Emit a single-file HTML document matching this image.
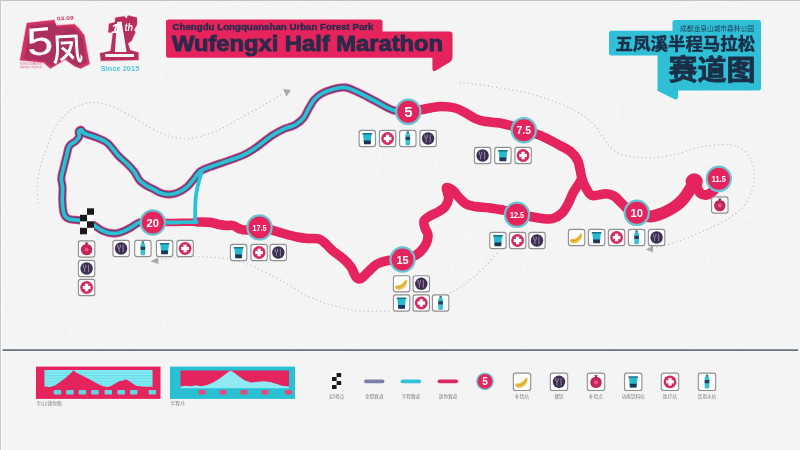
<!DOCTYPE html>
<html lang="zh">
<head>
<meta charset="utf-8">
<title>五凤溪半程马拉松 赛道图 - Wufengxi Half Marathon</title>
<style>
html,body{margin:0;padding:0;background:#f4f4f4;width:800px;height:450px;overflow:hidden}
svg{display:block}
svg text{font-family:"Liberation Sans","Noto Sans CJK SC",sans-serif}
#blurred{filter:blur(0.7px)}
</style>
</head>
<body>
<svg width="800" height="450" viewBox="0 0 800 450">
<rect width="800" height="450" fill="#f4f4f4"/>
<clipPath id="mapclip"><rect x="0" y="0" width="800" height="349"/></clipPath><g fill="none" stroke="#ffffff" stroke-width="0.9" opacity="0.3" clip-path="url(#mapclip)">
<path d="M284 70 L283 75 L279 79 L274 82 L268 84 L262 84 L257 84 L252 83 L248 83 L243 84 L237 85 L230 85 L225 82 L222 78 L221 74 L221 70 L221 66 L223 62 L227 59 L232 57 L237 55 L242 54 L247 53 L253 53 L257 55 L261 57 L265 59 L270 60 L276 62 L282 65Z"/>
<path d="M319 70 L316 79 L308 87 L298 93 L287 97 L275 98 L263 97 L254 96 L246 96 L236 98 L224 100 L210 100 L199 95 L193 87 L192 78 L191 70 L192 62 L196 54 L204 48 L215 44 L225 41 L234 38 L245 36 L255 37 L265 40 L272 45 L280 48 L290 51 L303 54 L314 61Z"/>
<path d="M353 70 L349 84 L337 96 L322 105 L305 111 L287 113 L270 111 L256 108 L244 108 L230 112 L210 116 L190 115 L174 107 L165 95 L162 82 L162 70 L163 58 L170 46 L182 37 L197 31 L212 26 L227 22 L242 19 L258 20 L272 25 L283 32 L294 37 L310 41 L329 46 L346 56Z"/>
<path d="M387 70 L382 89 L366 104 L346 116 L323 124 L299 127 L277 125 L258 121 L242 121 L223 126 L197 131 L170 129 L148 119 L137 104 L133 87 L132 70 L134 54 L143 38 L159 26 L179 18 L200 12 L219 6 L239 3 L260 4 L279 10 L294 19 L309 26 L330 31 L356 39 L378 52Z"/>
<path d="M421 70 L415 93 L395 113 L370 128 L342 138 L312 141 L283 138 L260 134 L240 134 L216 140 L184 146 L150 144 L123 132 L109 112 L104 91 L103 70 L106 50 L116 30 L136 15 L161 4 L187 -3 L211 -10 L237 -14 L263 -13 L286 -5 L305 6 L324 15 L350 22 L382 31 L410 47Z"/>
<path d="M456 70 L448 98 L424 122 L394 140 L360 151 L324 155 L290 152 L262 147 L238 147 L209 154 L171 161 L130 159 L97 144 L80 120 L75 95 L74 70 L77 45 L89 22 L113 4 L144 -9 L174 -17 L203 -25 L234 -31 L266 -30 L294 -20 L316 -6 L339 4 L370 12 L408 23 L442 43Z"/>
<path d="M670 300 L671 304 L669 309 L664 312 L659 314 L653 316 L648 317 L643 319 L637 319 L632 316 L628 313 L626 310 L623 308 L619 306 L615 304 L612 300 L611 296 L611 291 L613 287 L617 283 L624 281 L631 282 L638 284 L642 287 L646 288 L651 288 L656 288 L661 290 L665 293 L668 296Z"/>
<path d="M700 300 L701 309 L697 317 L688 323 L677 328 L667 331 L657 335 L646 338 L634 337 L624 333 L617 327 L612 321 L606 317 L598 313 L590 307 L584 300 L581 292 L582 283 L585 274 L594 266 L607 262 L622 264 L635 269 L644 273 L652 275 L661 275 L672 276 L682 280 L689 285 L695 292Z"/>
<path d="M730 300 L732 313 L726 326 L713 335 L696 342 L680 347 L665 352 L649 356 L631 356 L616 349 L605 340 L598 331 L589 325 L577 319 L564 311 L556 300 L552 288 L553 274 L558 260 L571 249 L591 243 L613 245 L633 253 L646 260 L658 263 L672 263 L688 265 L702 270 L714 278 L723 288Z"/>
<path d="M759 300 L762 317 L755 334 L737 347 L715 355 L694 362 L674 369 L652 375 L628 374 L608 366 L594 353 L584 342 L572 333 L556 325 L539 314 L528 300 L523 283 L524 265 L531 247 L548 232 L574 224 L605 227 L630 237 L648 246 L664 250 L683 251 L704 253 L723 260 L738 271 L750 284Z"/>
<path d="M789 300 L793 322 L783 343 L761 359 L734 369 L707 378 L682 387 L655 394 L625 393 L600 382 L582 367 L570 352 L555 341 L534 331 L514 318 L500 300 L494 279 L494 257 L504 234 L525 215 L558 205 L596 209 L628 221 L651 233 L670 238 L693 239 L719 241 L744 250 L763 264 L778 280Z"/>
<path d="M819 300 L823 326 L812 351 L785 370 L752 383 L721 393 L691 404 L658 413 L622 412 L592 399 L571 380 L556 362 L538 350 L513 338 L489 321 L472 300 L464 275 L465 248 L476 221 L502 198 L542 186 L587 191 L625 206 L653 220 L676 226 L704 226 L735 229 L765 240 L788 256 L806 277Z"/>
<path d="M849 300 L854 330 L841 360 L809 382 L771 397 L734 409 L699 421 L661 431 L619 430 L584 415 L559 393 L542 373 L520 358 L492 344 L463 325 L443 300 L435 271 L436 239 L449 207 L479 181 L525 168 L578 173 L623 190 L655 206 L682 213 L714 214 L751 218 L785 230 L812 249 L833 273Z"/>
<path d="M115 330 L113 333 L112 337 L111 340 L108 344 L104 346 L99 348 L93 349 L87 351 L80 351 L74 349 L70 345 L69 340 L70 336 L71 333 L70 330 L69 327 L68 324 L69 320 L71 316 L74 312 L80 308 L86 307 L93 309 L99 312 L103 316 L106 318 L110 321 L113 323 L115 326Z"/>
<path d="M139 330 L137 337 L135 343 L132 350 L127 357 L118 362 L108 366 L96 369 L84 371 L70 372 L57 368 L49 360 L48 350 L50 342 L52 335 L50 330 L48 324 L46 317 L48 310 L52 302 L59 294 L69 287 L83 284 L97 287 L108 294 L115 301 L122 307 L129 311 L136 316 L139 323Z"/>
<path d="M164 330 L160 340 L157 350 L153 360 L145 371 L132 379 L116 384 L99 388 L80 392 L60 392 L41 387 L29 375 L27 361 L30 348 L33 338 L31 330 L27 321 L25 311 L27 299 L33 288 L43 275 L59 265 L79 262 L100 266 L116 276 L128 287 L137 295 L149 302 L159 310 L164 319Z"/>
<path d="M188 330 L184 343 L179 356 L174 371 L163 384 L146 395 L125 402 L102 408 L77 412 L49 413 L24 406 L8 390 L6 371 L10 354 L14 341 L11 330 L5 318 L3 304 L6 289 L14 273 L27 257 L48 244 L76 239 L103 244 L125 258 L140 272 L153 283 L168 292 L182 303 L189 316Z"/>
<path d="M213 330 L207 347 L201 363 L195 381 L182 398 L160 411 L134 420 L105 427 L74 433 L39 434 L8 425 L-12 405 L-15 381 L-9 360 L-6 344 L-9 330 L-16 315 L-19 298 L-15 279 L-5 259 L11 239 L38 222 L72 216 L107 223 L134 240 L153 258 L169 271 L188 283 L205 296 L214 312Z"/>
<path d="M237 330 L230 350 L224 370 L216 391 L200 411 L174 427 L143 438 L108 446 L71 453 L29 455 L-9 444 L-32 421 L-36 391 L-29 365 L-25 346 L-29 330 L-37 312 L-41 291 L-36 269 L-25 245 L-4 221 L27 201 L68 193 L110 202 L143 222 L165 243 L185 260 L207 273 L228 289 L238 309Z"/>
<path d="M554 170 L555 175 L551 179 L545 182 L539 184 L533 185 L527 185 L522 184 L518 184 L514 183 L508 184 L502 184 L496 182 L492 178 L491 174 L492 170 L492 166 L493 162 L495 158 L500 155 L506 154 L512 153 L517 154 L523 154 L527 155 L531 157 L534 159 L538 161 L544 163 L550 166Z"/>
<path d="M589 170 L589 180 L582 188 L570 194 L557 198 L546 199 L535 200 L525 199 L516 197 L507 197 L496 197 L483 197 L471 194 L464 187 L462 178 L463 170 L465 162 L466 154 L471 146 L480 140 L492 138 L504 137 L515 137 L525 138 L534 140 L542 144 L548 149 L556 153 L567 156 L580 162Z"/>
<path d="M623 170 L624 185 L612 197 L594 206 L576 211 L558 214 L542 215 L527 213 L514 211 L501 210 L485 211 L465 211 L447 205 L436 195 L433 182 L435 170 L437 158 L439 146 L446 134 L460 126 L478 121 L496 120 L512 121 L528 122 L542 125 L553 132 L563 138 L574 144 L591 149 L610 157Z"/>
<path d="M657 170 L658 190 L643 207 L619 218 L594 225 L571 229 L549 230 L529 227 L511 224 L494 223 L473 225 L447 224 L423 217 L408 203 L405 186 L407 170 L409 154 L412 138 L422 123 L440 111 L464 105 L488 104 L510 104 L530 106 L549 111 L564 119 L577 128 L592 135 L614 142 L639 153Z"/>
<path d="M691 170 L693 195 L674 216 L644 230 L613 239 L584 244 L556 245 L531 242 L509 238 L488 236 L461 238 L429 238 L399 229 L380 211 L376 190 L378 170 L381 150 L386 130 L397 111 L420 96 L450 89 L480 87 L507 88 L533 90 L556 96 L575 106 L591 117 L610 126 L638 135 L669 149Z"/>
<path d="M779 260 L782 263 L785 267 L785 272 L782 276 L776 279 L770 280 L763 281 L757 280 L751 278 L748 274 L745 271 L742 269 L738 266 L735 264 L733 260 L735 256 L737 253 L740 250 L742 247 L745 243 L750 240 L757 239 L763 239 L769 241 L775 243 L779 246 L780 250 L779 254 L778 257Z"/>
<path d="M798 260 L804 266 L809 275 L810 284 L804 292 L793 298 L780 301 L767 301 L754 300 L743 295 L735 289 L730 282 L724 277 L716 273 L710 267 L707 260 L710 253 L715 247 L720 240 L724 233 L730 226 L740 220 L753 217 L767 218 L779 221 L789 226 L797 233 L800 241 L798 249 L796 255Z"/>
<path d="M817 260 L825 269 L834 282 L835 296 L825 308 L809 317 L790 321 L770 322 L751 320 L734 313 L723 303 L715 294 L706 286 L695 279 L684 271 L680 260 L684 249 L692 240 L700 231 L706 220 L716 209 L731 200 L750 196 L770 198 L788 202 L804 209 L816 219 L820 231 L818 243 L814 252Z"/>
<path d="M836 260 L847 272 L858 289 L860 308 L847 325 L825 335 L800 341 L773 343 L747 340 L726 330 L710 317 L699 305 L688 295 L673 286 L659 274 L654 260 L659 246 L670 233 L679 221 L688 207 L701 192 L721 180 L747 175 L773 177 L798 183 L819 192 L834 205 L840 221 L837 237 L833 250Z"/>
<path d="M855 260 L869 275 L883 297 L885 320 L869 341 L842 354 L809 362 L776 364 L744 360 L717 348 L698 332 L684 316 L670 304 L651 292 L634 278 L627 260 L634 242 L647 226 L659 211 L670 193 L686 175 L711 160 L743 154 L776 156 L807 164 L834 175 L853 191 L860 212 L856 231 L851 247Z"/>
<path d="M873 260 L891 278 L908 304 L910 332 L891 357 L858 373 L819 382 L780 384 L741 380 L708 366 L685 346 L669 327 L652 312 L629 299 L609 281 L601 260 L609 239 L624 220 L639 201 L652 180 L671 157 L701 140 L740 132 L780 135 L816 144 L848 158 L871 178 L880 202 L875 226 L869 245Z"/>
<path d="M358 300 L356 304 L355 307 L352 311 L347 313 L342 314 L337 315 L332 316 L327 316 L322 316 L317 315 L313 312 L309 310 L303 308 L298 305 L295 300 L297 295 L302 292 L309 290 L314 288 L319 287 L324 287 L328 286 L332 286 L337 285 L344 284 L351 284 L357 287 L360 291 L360 296Z"/>
<path d="M387 300 L383 307 L379 315 L373 321 L365 326 L355 328 L345 330 L335 332 L325 333 L314 332 L305 329 L296 325 L287 321 L276 316 L266 309 L260 300 L264 291 L274 283 L287 279 L299 277 L308 275 L317 273 L326 273 L334 272 L345 270 L357 268 L372 269 L385 273 L391 282 L390 291Z"/>
<path d="M415 300 L409 311 L404 322 L395 332 L382 339 L367 343 L352 345 L337 347 L322 349 L307 348 L292 344 L280 337 L266 331 L250 324 L234 314 L226 300 L231 286 L246 275 L266 269 L283 265 L297 262 L311 260 L324 259 L337 258 L352 255 L371 253 L393 253 L412 260 L421 273 L421 287Z"/>
<path d="M443 300 L435 315 L428 329 L417 342 L400 352 L379 357 L359 360 L340 363 L320 365 L299 364 L280 358 L263 350 L245 341 L223 332 L202 318 L191 300 L197 281 L218 267 L244 258 L267 253 L286 250 L304 247 L321 245 L339 244 L359 240 L385 237 L414 238 L439 247 L452 264 L451 283Z"/>
<path d="M471 300 L462 319 L453 336 L439 353 L417 364 L391 371 L367 375 L342 379 L317 382 L291 380 L267 373 L246 362 L223 352 L196 340 L169 323 L156 300 L164 277 L190 259 L223 248 L251 242 L275 237 L298 234 L319 232 L341 230 L366 226 L399 221 L435 222 L467 234 L482 255 L481 279Z"/>
<path d="M144 120 L146 124 L147 128 L146 133 L142 136 L135 138 L129 138 L123 138 L117 138 L111 138 L106 136 L102 133 L100 130 L99 126 L98 123 L97 120 L96 117 L97 113 L98 110 L100 105 L104 101 L109 98 L116 97 L123 99 L128 103 L131 107 L134 110 L137 112 L140 114 L142 117Z"/>
<path d="M168 120 L172 127 L174 136 L172 145 L163 152 L151 156 L138 156 L126 156 L114 156 L103 156 L92 153 L84 147 L81 139 L79 132 L77 126 L74 120 L73 113 L74 106 L77 99 L81 91 L87 82 L98 75 L113 74 L127 78 L137 86 L143 94 L148 99 L154 104 L160 108 L165 114Z"/>
<path d="M193 120 L198 131 L201 144 L197 158 L185 168 L166 173 L146 174 L128 174 L111 174 L94 174 L77 169 L66 160 L61 149 L58 138 L55 129 L51 120 L49 110 L51 99 L55 89 L61 76 L71 63 L87 53 L109 50 L130 57 L145 69 L154 80 L162 89 L171 96 L180 102 L187 111Z"/>
<path d="M217 120 L224 135 L228 152 L223 170 L207 184 L182 191 L155 192 L131 192 L109 192 L85 192 L63 185 L48 173 L41 158 L38 144 L33 132 L28 120 L25 107 L28 93 L33 78 L42 62 L55 45 L77 31 L105 27 L133 36 L153 51 L166 67 L176 79 L187 87 L199 96 L209 107Z"/>
<path d="M241 120 L250 138 L255 160 L249 183 L228 200 L197 209 L164 210 L134 210 L106 210 L76 209 L49 202 L30 186 L21 168 L17 151 L11 135 L5 120 L1 103 L5 86 L12 68 L22 47 L38 26 L66 9 L102 4 L137 15 L162 34 L177 54 L190 68 L204 79 L219 91 L231 104Z"/>
<path d="M729 80 L726 84 L722 86 L718 89 L715 91 L711 93 L707 94 L702 95 L697 98 L690 100 L683 100 L676 98 L673 93 L673 88 L674 84 L676 80 L677 77 L679 74 L682 71 L685 69 L688 66 L692 63 L697 61 L703 60 L709 62 L714 64 L719 66 L724 68 L728 72 L731 76Z"/>
<path d="M759 80 L752 87 L744 93 L736 98 L729 102 L722 105 L714 108 L705 111 L694 115 L681 119 L665 120 L652 115 L646 106 L645 96 L649 87 L652 80 L655 74 L659 68 L664 63 L670 58 L676 52 L683 46 L694 41 L706 40 L718 43 L728 48 L737 52 L748 57 L757 63 L761 71Z"/>
<path d="M788 80 L778 91 L765 99 L755 106 L744 113 L733 118 L720 122 L707 126 L692 133 L671 139 L648 140 L628 133 L618 120 L618 104 L623 91 L627 80 L632 70 L638 62 L646 54 L655 47 L664 38 L675 29 L691 22 L709 21 L727 25 L742 32 L756 38 L772 45 L785 55 L792 67Z"/>
<path d="M818 80 L804 95 L787 106 L773 115 L759 124 L743 130 L727 135 L710 142 L689 150 L662 159 L630 160 L604 151 L591 133 L591 112 L597 95 L603 80 L609 67 L617 55 L628 45 L640 36 L652 24 L667 12 L688 3 L712 1 L736 7 L756 16 L775 25 L795 34 L814 46 L823 63Z"/>
</g>
<g id="blurred">
<path d="M38.0 203.0 C37.9 199.5 37.0 188.3 37.5 182.0 C38.0 175.7 39.6 170.3 41.0 165.0 C42.4 159.7 43.7 156.2 46.0 150.0 C48.3 143.8 51.0 134.6 55.0 128.0 C59.0 121.4 64.6 114.7 70.0 110.5 C75.4 106.3 81.7 104.1 87.5 103.0 C93.3 101.9 98.8 102.4 105.0 104.0 C111.2 105.6 117.5 108.6 125.0 112.5 C132.5 116.4 142.5 123.5 150.0 127.5 C157.5 131.5 163.3 134.7 170.0 136.5 C176.7 138.3 182.5 139.3 190.0 138.5 C197.5 137.7 206.2 135.1 215.0 131.5 C223.8 127.9 233.8 121.8 242.5 117.0 C251.2 112.2 260.6 107.0 267.5 103.0 C274.4 99.0 281.2 94.7 284.0 93.0" fill="none" stroke="#c2c2c2" stroke-width="1.25" stroke-dasharray="0.2 3.9" stroke-linecap="round"/>
<path d="M460.0 82.5 C464.6 83.1 476.7 84.3 487.5 86.0 C498.3 87.7 514.6 90.2 525.0 92.5 C535.4 94.8 541.7 97.0 550.0 100.0 C558.3 103.0 567.9 106.7 575.0 110.5 C582.1 114.3 587.8 118.6 592.5 123.0 C597.2 127.4 600.1 133.0 603.0 137.0 C605.9 141.0 606.7 144.0 610.0 147.0 C613.3 150.0 616.3 153.2 623.0 155.0 C629.7 156.8 641.3 158.1 650.0 158.0 C658.7 157.9 666.7 156.3 675.0 154.5 C683.3 152.7 691.7 148.7 700.0 147.0 C708.3 145.3 718.3 144.3 725.0 144.5 C731.7 144.7 735.8 145.8 740.0 148.0 C744.2 150.2 747.6 153.5 750.0 158.0 C752.4 162.5 754.3 169.2 754.5 175.0 C754.7 180.8 753.1 187.5 751.0 193.0 C748.9 198.5 746.3 203.4 742.0 208.0 C737.7 212.6 732.0 216.4 725.0 220.5 C718.0 224.6 708.3 228.8 700.0 232.5 C691.7 236.2 682.7 239.9 675.0 242.5 C667.3 245.1 657.5 247.1 654.0 248.0" fill="none" stroke="#c2c2c2" stroke-width="1.25" stroke-dasharray="0.2 3.9" stroke-linecap="round"/>
<path d="M158.0 259.8 C160.8 259.4 168.0 258.0 175.0 257.5 C182.0 257.0 191.7 256.6 200.0 256.8 C208.3 257.0 216.7 257.1 225.0 258.5 C233.3 259.9 240.8 261.4 250.0 265.0 C259.2 268.6 270.0 274.7 280.0 280.0 C290.0 285.3 300.8 292.7 310.0 297.0 C319.2 301.3 326.7 303.7 335.0 306.0 C343.3 308.3 350.5 310.2 360.0 311.0 C369.5 311.8 386.7 311.0 392.0 311.0" fill="none" stroke="#c2c2c2" stroke-width="1.25" stroke-dasharray="0.2 3.9" stroke-linecap="round"/>
<path d="M450.0 293.0 C452.0 291.8 457.8 288.8 462.0 286.0 C466.2 283.2 470.8 279.7 475.0 276.0 C479.2 272.3 483.7 268.0 487.5 264.0 C491.3 260.0 496.2 254.0 498.0 252.0" fill="none" stroke="#c2c2c2" stroke-width="1.25" stroke-dasharray="0.2 3.9" stroke-linecap="round"/>
<polygon points="283,89 291,90 286.5,96.5" fill="#a9a9a9"/>
<polygon points="646,249.5 653,245.5 653,252.5" fill="#a9a9a9"/>
<polygon points="150.5,261.3 158,257.5 158.5,264" fill="#a9a9a9"/>
<path d="M408.0 112.0 C410.8 111.5 419.7 109.9 425.0 109.0 C430.3 108.1 435.0 106.7 440.0 106.5 C445.0 106.3 450.8 107.0 455.0 108.0 C459.2 109.0 461.7 110.8 465.0 112.5 C468.3 114.2 471.7 117.0 475.0 118.5 C478.3 120.0 480.8 120.8 485.0 121.5 C489.2 122.2 495.5 122.2 500.0 123.0 C504.5 123.8 508.0 124.8 512.0 126.0 C516.0 127.2 518.9 128.2 524.0 130.0 C529.1 131.8 536.5 133.9 542.5 136.5 C548.5 139.1 555.2 142.9 560.0 145.5 C564.8 148.1 568.1 149.6 571.0 152.0 C573.9 154.4 576.0 157.2 577.5 160.0 C579.0 162.8 579.2 165.8 580.0 169.0 C580.8 172.2 581.0 175.8 582.0 179.0 C583.0 182.2 584.3 185.2 586.0 188.0 C587.7 190.8 588.7 194.5 592.0 195.5 C595.3 196.5 602.3 193.7 606.0 193.8 C609.7 193.9 611.5 194.6 614.0 196.0 C616.5 197.4 618.7 200.2 621.0 202.5 C623.3 204.8 625.5 207.8 628.0 209.5 C630.5 211.2 634.9 212.4 636.3 213.0" fill="none" stroke="#e5245d" stroke-width="9.5" stroke-linecap="round" stroke-linejoin="round"/>
<path d="M582.0 179.0 C581.3 180.0 579.5 182.7 578.0 185.0 C576.5 187.3 574.7 189.8 573.0 193.0 C571.3 196.2 569.8 200.7 568.0 204.0 C566.2 207.3 564.5 210.6 562.0 213.0 C559.5 215.4 556.3 217.6 553.0 218.5 C549.7 219.4 545.8 218.8 542.0 218.5 C538.2 218.2 534.2 217.2 530.0 216.5 C525.8 215.8 521.2 215.5 517.0 214.5 C512.8 213.5 509.5 211.6 505.0 210.5 C500.5 209.4 495.0 208.7 490.0 208.0 C485.0 207.3 479.0 207.2 475.0 206.5 C471.0 205.8 468.7 205.5 466.0 204.0 C463.3 202.5 461.2 199.8 459.0 197.5 C456.8 195.2 455.1 192.2 453.0 190.5 C450.9 188.8 447.4 187.1 446.5 187.5 C445.6 187.9 447.2 191.1 447.5 193.0 C447.8 194.9 448.9 196.7 448.5 199.0 C448.1 201.3 446.8 204.8 445.0 207.0 C443.2 209.2 440.5 210.5 438.0 212.0 C435.5 213.5 432.3 214.5 430.0 216.0 C427.7 217.5 424.8 219.0 424.0 221.0 C423.2 223.0 424.3 225.7 425.0 228.0 C425.7 230.3 427.8 232.3 428.0 235.0 C428.2 237.7 427.3 241.2 426.0 244.0 C424.7 246.8 422.3 249.8 420.0 252.0 C417.7 254.2 414.9 255.8 412.0 257.0 C409.1 258.2 406.5 258.9 402.5 259.5 C398.5 260.1 392.2 259.8 388.0 260.5 C383.8 261.2 380.3 262.1 377.0 264.0 C373.7 265.9 370.7 269.6 368.0 272.0 C365.3 274.4 363.0 277.7 361.0 278.5 C359.0 279.3 357.7 278.9 356.0 277.0 C354.3 275.1 353.2 270.1 351.0 267.0 C348.8 263.9 346.0 261.2 343.0 258.5 C340.0 255.8 335.8 253.4 333.0 251.0 C330.2 248.6 328.3 246.0 326.0 244.0 C323.7 242.0 322.0 239.9 319.0 239.0 C316.0 238.1 311.7 238.8 308.0 238.5 C304.3 238.2 301.7 238.0 297.0 237.0 C292.3 236.0 286.2 234.2 280.0 232.5 C273.8 230.8 265.3 227.4 260.0 227.0 C254.7 226.6 251.3 229.7 248.0 230.0 C244.7 230.3 242.5 229.8 240.0 229.0 C237.5 228.2 235.3 226.1 233.0 225.5 C230.7 224.9 228.3 225.7 226.0 225.5 C223.7 225.3 221.7 225.0 219.0 224.5 C216.3 224.0 213.7 222.7 210.0 222.3 C206.3 221.9 199.2 222.1 197.0 222.0" fill="none" stroke="#e5245d" stroke-width="9.5" stroke-linecap="round" stroke-linejoin="round"/>
<path d="M636.3 213.5 C638.6 214.0 645.7 216.5 650.0 216.5 C654.3 216.5 658.2 214.8 662.0 213.3 C665.8 211.9 669.7 209.9 673.0 207.8 C676.3 205.7 679.5 203.1 682.0 200.5 C684.5 197.9 686.2 195.1 688.0 192.5 C689.8 189.9 691.8 186.2 692.5 185.0" fill="none" stroke="#e5245d" stroke-width="12" stroke-linecap="round" stroke-linejoin="round"/>
<path d="M694.0 182.0 C694.5 183.0 695.9 186.1 697.0 188.0 C698.1 189.9 699.0 192.1 700.5 193.3 C702.0 194.5 704.2 195.1 706.0 195.0 C707.8 194.9 709.8 193.8 711.5 192.5 C713.2 191.2 714.8 189.1 716.0 187.0 C717.2 184.9 718.5 181.2 719.0 180.0" fill="none" stroke="#e5245d" stroke-width="10" stroke-linecap="round" stroke-linejoin="round"/>
<circle cx="694.2" cy="181.8" r="8.6" fill="#e5245d"/>
<path d="M152.5 222.5 C150.4 222.5 143.8 221.4 140.0 222.3 C136.2 223.2 133.0 226.4 130.0 228.0 C127.0 229.6 124.7 230.9 122.0 231.8 C119.3 232.7 117.2 233.6 114.0 233.5 C110.8 233.4 106.8 232.7 103.0 231.0 C99.2 229.3 94.8 225.3 91.0 223.5 C87.2 221.7 83.7 221.1 80.0 220.3 C76.3 219.6 71.7 220.1 69.0 219.0 C66.3 217.9 65.1 217.2 64.0 214.0 C62.9 210.8 62.5 204.4 62.3 200.0 C62.1 195.6 62.8 191.1 62.6 187.5 C62.4 183.9 61.2 181.4 61.3 178.5 C61.4 175.6 62.1 173.8 63.0 170.0 C63.9 166.2 65.5 160.0 66.5 156.0 C67.5 152.0 67.8 148.4 69.3 146.0 C70.8 143.6 73.8 142.9 75.5 141.3 C77.2 139.7 78.8 138.1 79.3 136.5 C79.8 134.9 78.3 132.9 78.6 131.8 C78.9 130.7 80.0 129.6 81.0 129.8 C82.0 130.1 81.8 132.0 84.5 133.3 C87.2 134.6 93.2 136.2 97.0 137.8 C100.8 139.4 104.1 140.1 107.6 143.1 C111.1 146.1 115.0 152.2 118.2 155.6 C121.4 159.0 124.3 160.9 127.0 163.6 C129.7 166.3 132.1 168.8 134.2 171.6 C136.3 174.4 137.5 178.0 139.6 180.4 C141.7 182.8 144.3 184.3 146.7 185.8 C149.1 187.3 151.6 188.2 153.8 189.3 C156.0 190.5 157.6 191.8 160.0 192.7 C162.4 193.6 165.5 194.5 168.5 194.5 C171.5 194.5 174.9 193.8 178.0 192.5 C181.1 191.2 184.3 189.2 187.0 187.0 C189.7 184.8 191.8 181.6 194.0 179.0 C196.2 176.4 197.3 173.5 200.0 171.5 C202.7 169.5 206.7 168.3 210.0 167.0 C213.3 165.7 214.6 165.4 220.0 163.5 C225.4 161.6 236.7 158.0 242.5 155.5 C248.3 153.0 250.0 151.7 255.0 148.3 C260.0 144.9 267.5 138.6 272.5 135.3 C277.5 132.0 281.2 130.2 285.0 128.5 C288.8 126.8 291.9 126.8 295.0 125.0 C298.1 123.2 301.2 120.8 303.5 118.0 C305.8 115.2 307.2 111.0 309.0 108.0 C310.8 105.0 312.0 102.3 314.0 100.0 C316.0 97.7 318.0 95.8 321.0 94.0 C324.0 92.2 328.0 90.6 332.0 89.5 C336.0 88.4 340.8 87.1 345.0 87.5 C349.2 87.9 352.5 89.8 357.5 92.0 C362.5 94.2 369.2 98.0 375.0 101.0 C380.8 104.0 387.0 108.2 392.5 110.0 C398.0 111.8 405.4 111.7 408.0 112.0" fill="none" stroke="#e94c80" stroke-width="8.3" stroke-linecap="round" stroke-linejoin="round"/>
<path d="M152.5 222.5 C150.4 222.5 143.8 221.4 140.0 222.3 C136.2 223.2 133.0 226.4 130.0 228.0 C127.0 229.6 124.7 230.9 122.0 231.8 C119.3 232.7 117.2 233.6 114.0 233.5 C110.8 233.4 106.8 232.7 103.0 231.0 C99.2 229.3 94.8 225.3 91.0 223.5 C87.2 221.7 83.7 221.1 80.0 220.3 C76.3 219.6 71.7 220.1 69.0 219.0 C66.3 217.9 65.1 217.2 64.0 214.0 C62.9 210.8 62.5 204.4 62.3 200.0 C62.1 195.6 62.8 191.1 62.6 187.5 C62.4 183.9 61.2 181.4 61.3 178.5 C61.4 175.6 62.1 173.8 63.0 170.0 C63.9 166.2 65.5 160.0 66.5 156.0 C67.5 152.0 67.8 148.4 69.3 146.0 C70.8 143.6 73.8 142.9 75.5 141.3 C77.2 139.7 78.8 138.1 79.3 136.5 C79.8 134.9 78.3 132.9 78.6 131.8 C78.9 130.7 80.0 129.6 81.0 129.8 C82.0 130.1 81.8 132.0 84.5 133.3 C87.2 134.6 93.2 136.2 97.0 137.8 C100.8 139.4 104.1 140.1 107.6 143.1 C111.1 146.1 115.0 152.2 118.2 155.6 C121.4 159.0 124.3 160.9 127.0 163.6 C129.7 166.3 132.1 168.8 134.2 171.6 C136.3 174.4 137.5 178.0 139.6 180.4 C141.7 182.8 144.3 184.3 146.7 185.8 C149.1 187.3 151.6 188.2 153.8 189.3 C156.0 190.5 157.6 191.8 160.0 192.7 C162.4 193.6 165.5 194.5 168.5 194.5 C171.5 194.5 174.9 193.8 178.0 192.5 C181.1 191.2 184.3 189.2 187.0 187.0 C189.7 184.8 191.8 181.6 194.0 179.0 C196.2 176.4 197.3 173.5 200.0 171.5 C202.7 169.5 206.7 168.3 210.0 167.0 C213.3 165.7 214.6 165.4 220.0 163.5 C225.4 161.6 236.7 158.0 242.5 155.5 C248.3 153.0 250.0 151.7 255.0 148.3 C260.0 144.9 267.5 138.6 272.5 135.3 C277.5 132.0 281.2 130.2 285.0 128.5 C288.8 126.8 291.9 126.8 295.0 125.0 C298.1 123.2 301.2 120.8 303.5 118.0 C305.8 115.2 307.2 111.0 309.0 108.0 C310.8 105.0 312.0 102.3 314.0 100.0 C316.0 97.7 318.0 95.8 321.0 94.0 C324.0 92.2 328.0 90.6 332.0 89.5 C336.0 88.4 340.8 87.1 345.0 87.5 C349.2 87.9 352.5 89.8 357.5 92.0 C362.5 94.2 369.2 98.0 375.0 101.0 C380.8 104.0 387.0 108.2 392.5 110.0 C398.0 111.8 405.4 111.7 408.0 112.0" fill="none" stroke="#6b3f7c" stroke-width="6.7" stroke-linecap="round" stroke-linejoin="round"/>
<path d="M152.5 222.5 C150.4 222.5 143.8 221.4 140.0 222.3 C136.2 223.2 133.0 226.4 130.0 228.0 C127.0 229.6 124.7 230.9 122.0 231.8 C119.3 232.7 117.2 233.6 114.0 233.5 C110.8 233.4 106.8 232.7 103.0 231.0 C99.2 229.3 94.8 225.3 91.0 223.5 C87.2 221.7 83.7 221.1 80.0 220.3 C76.3 219.6 71.7 220.1 69.0 219.0 C66.3 217.9 65.1 217.2 64.0 214.0 C62.9 210.8 62.5 204.4 62.3 200.0 C62.1 195.6 62.8 191.1 62.6 187.5 C62.4 183.9 61.2 181.4 61.3 178.5 C61.4 175.6 62.1 173.8 63.0 170.0 C63.9 166.2 65.5 160.0 66.5 156.0 C67.5 152.0 67.8 148.4 69.3 146.0 C70.8 143.6 73.8 142.9 75.5 141.3 C77.2 139.7 78.8 138.1 79.3 136.5 C79.8 134.9 78.3 132.9 78.6 131.8 C78.9 130.7 80.0 129.6 81.0 129.8 C82.0 130.1 81.8 132.0 84.5 133.3 C87.2 134.6 93.2 136.2 97.0 137.8 C100.8 139.4 104.1 140.1 107.6 143.1 C111.1 146.1 115.0 152.2 118.2 155.6 C121.4 159.0 124.3 160.9 127.0 163.6 C129.7 166.3 132.1 168.8 134.2 171.6 C136.3 174.4 137.5 178.0 139.6 180.4 C141.7 182.8 144.3 184.3 146.7 185.8 C149.1 187.3 151.6 188.2 153.8 189.3 C156.0 190.5 157.6 191.8 160.0 192.7 C162.4 193.6 165.5 194.5 168.5 194.5 C171.5 194.5 174.9 193.8 178.0 192.5 C181.1 191.2 184.3 189.2 187.0 187.0 C189.7 184.8 191.8 181.6 194.0 179.0 C196.2 176.4 197.3 173.5 200.0 171.5 C202.7 169.5 206.7 168.3 210.0 167.0 C213.3 165.7 214.6 165.4 220.0 163.5 C225.4 161.6 236.7 158.0 242.5 155.5 C248.3 153.0 250.0 151.7 255.0 148.3 C260.0 144.9 267.5 138.6 272.5 135.3 C277.5 132.0 281.2 130.2 285.0 128.5 C288.8 126.8 291.9 126.8 295.0 125.0 C298.1 123.2 301.2 120.8 303.5 118.0 C305.8 115.2 307.2 111.0 309.0 108.0 C310.8 105.0 312.0 102.3 314.0 100.0 C316.0 97.7 318.0 95.8 321.0 94.0 C324.0 92.2 328.0 90.6 332.0 89.5 C336.0 88.4 340.8 87.1 345.0 87.5 C349.2 87.9 352.5 89.8 357.5 92.0 C362.5 94.2 369.2 98.0 375.0 101.0 C380.8 104.0 387.0 108.2 392.5 110.0 C398.0 111.8 405.4 111.7 408.0 112.0" fill="none" stroke="#2ac1d0" stroke-width="3.7" stroke-linecap="round" stroke-linejoin="round"/>
<path d="M152.5 222.5 C154.6 222.5 160.1 222.5 165.0 222.5 C169.9 222.5 176.8 222.4 182.0 222.3 C187.2 222.2 194.1 222.1 196.5 222.0" fill="none" stroke="#e5245d" stroke-width="7.6" stroke-linecap="butt"/>
<path d="M152.5 222.5 C154.6 222.5 160.1 222.5 165.0 222.5 C169.9 222.5 176.8 222.4 182.0 222.3 C187.2 222.2 194.1 222.1 196.5 222.0" fill="none" stroke="#2ac1d0" stroke-width="3.8" stroke-linecap="round"/>
<path d="M201.5 172.0 C201.1 173.5 199.9 177.2 199.0 181.0 C198.1 184.8 196.6 190.2 196.0 195.0 C195.4 199.8 195.3 205.5 195.2 210.0 C195.1 214.5 195.2 220.0 195.2 222.0" fill="none" stroke="#25c3dc" stroke-width="3.8" stroke-linecap="round" stroke-linejoin="round"/>
<rect x="80.0" y="208.3" width="14.0" height="26.0" fill="#fbfbfb"/><rect x="87.00" y="208.30" width="7.00" height="6.50" fill="#1a1a1a"/><rect x="80.00" y="214.80" width="7.00" height="6.50" fill="#1a1a1a"/><rect x="87.00" y="221.30" width="7.00" height="6.50" fill="#1a1a1a"/><rect x="80.00" y="227.80" width="7.00" height="6.50" fill="#1a1a1a"/>
<rect x="112.9" y="240.4" width="16.4" height="16.2" rx="2.3" fill="#fcfcfc" stroke="#8e8e94" stroke-width="1.1"/><circle cx="121.1" cy="248.5" r="6.2" fill="#382f52"/><path d="M123.1 244.7 v7.6 M117.9 244.7 v2.8 q1.2 1.6 2.4 0 v-2.8 M119.1 247.9 v4.4" stroke="#a98aa6" stroke-width="0.9" fill="none"/>
<rect x="134.7" y="240.4" width="16.4" height="16.2" rx="2.3" fill="#fcfcfc" stroke="#8e8e94" stroke-width="1.1"/><rect x="141.7" y="241.3" width="2.4" height="2.6" fill="#2a7f96"/><rect x="140.6" y="243.5" width="4.6" height="11.8" rx="1.3" fill="#3abfd2"/><rect x="140.6" y="246.7" width="4.6" height="3.2" fill="#233f63"/>
<rect x="156.4" y="240.4" width="16.4" height="16.2" rx="2.3" fill="#fcfcfc" stroke="#8e8e94" stroke-width="1.1"/><polygon points="160.3,243.9 168.9,243.9 167.8,254.1 161.4,254.1" fill="#27b9cc"/><polygon points="161.0,250.5 168.2,250.5 167.8,254.3 161.4,254.3" fill="#1d3557"/><rect x="159.7" y="242.9" width="9.8" height="1.5" rx="0.5" fill="#1d6f86"/>
<rect x="176.9" y="240.4" width="16.4" height="16.2" rx="2.3" fill="#fcfcfc" stroke="#8e8e94" stroke-width="1.1"/><circle cx="185.1" cy="248.5" r="6.4" fill="#d42a5f"/><rect x="183.5" y="244.7" width="3.2" height="7.6" fill="#fff"/><rect x="181.3" y="246.9" width="7.6" height="3.2" fill="#fff"/>
<rect x="78.4" y="240.9" width="16.4" height="16.2" rx="2.3" fill="#fcfcfc" stroke="#8e8e94" stroke-width="1.1"/><circle cx="86.6" cy="249.6" r="5.7" fill="#c2255a"/><polygon points="84.8,242.4 88.4,242.4 86.6,245.2" fill="#8c1d47"/><circle cx="86.6" cy="249.6" r="2.1" fill="#e85585"/>
<rect x="78.4" y="260.4" width="16.4" height="16.2" rx="2.3" fill="#fcfcfc" stroke="#8e8e94" stroke-width="1.1"/><circle cx="86.6" cy="268.5" r="6.2" fill="#382f52"/><path d="M88.6 264.7 v7.6 M83.4 264.7 v2.8 q1.2 1.6 2.4 0 v-2.8 M84.6 267.9 v4.4" stroke="#a98aa6" stroke-width="0.9" fill="none"/>
<rect x="78.4" y="279.4" width="16.4" height="16.2" rx="2.3" fill="#fcfcfc" stroke="#8e8e94" stroke-width="1.1"/><circle cx="86.6" cy="287.5" r="6.4" fill="#d42a5f"/><rect x="85.0" y="283.7" width="3.2" height="7.6" fill="#fff"/><rect x="82.8" y="285.9" width="7.6" height="3.2" fill="#fff"/>
<rect x="230.4" y="244.4" width="16.4" height="16.2" rx="2.3" fill="#fcfcfc" stroke="#8e8e94" stroke-width="1.1"/><polygon points="234.3,247.9 242.9,247.9 241.8,258.1 235.4,258.1" fill="#27b9cc"/><polygon points="235.0,254.5 242.2,254.5 241.8,258.3 235.4,258.3" fill="#1d3557"/><rect x="233.7" y="246.9" width="9.8" height="1.5" rx="0.5" fill="#1d6f86"/>
<rect x="250.9" y="244.4" width="16.4" height="16.2" rx="2.3" fill="#fcfcfc" stroke="#8e8e94" stroke-width="1.1"/><circle cx="259.1" cy="252.5" r="6.4" fill="#d42a5f"/><rect x="257.5" y="248.7" width="3.2" height="7.6" fill="#fff"/><rect x="255.3" y="250.9" width="7.6" height="3.2" fill="#fff"/>
<rect x="270.1" y="244.4" width="16.4" height="16.2" rx="2.3" fill="#fcfcfc" stroke="#8e8e94" stroke-width="1.1"/><circle cx="278.3" cy="252.5" r="6.2" fill="#382f52"/><path d="M280.3 248.7 v7.6 M275.1 248.7 v2.8 q1.2 1.6 2.4 0 v-2.8 M276.3 251.9 v4.4" stroke="#a98aa6" stroke-width="0.9" fill="none"/>
<rect x="359.1" y="130.4" width="16.4" height="16.2" rx="2.3" fill="#fcfcfc" stroke="#8e8e94" stroke-width="1.1"/><polygon points="363.0,133.9 371.6,133.9 370.5,144.1 364.1,144.1" fill="#27b9cc"/><polygon points="363.7,140.5 370.9,140.5 370.5,144.3 364.1,144.3" fill="#1d3557"/><rect x="362.4" y="132.9" width="9.8" height="1.5" rx="0.5" fill="#1d6f86"/>
<rect x="379.4" y="130.4" width="16.4" height="16.2" rx="2.3" fill="#fcfcfc" stroke="#8e8e94" stroke-width="1.1"/><circle cx="387.6" cy="138.5" r="6.4" fill="#d42a5f"/><rect x="386.0" y="134.7" width="3.2" height="7.6" fill="#fff"/><rect x="383.8" y="136.9" width="7.6" height="3.2" fill="#fff"/>
<rect x="399.6" y="130.4" width="16.4" height="16.2" rx="2.3" fill="#fcfcfc" stroke="#8e8e94" stroke-width="1.1"/><rect x="406.6" y="131.3" width="2.4" height="2.6" fill="#2a7f96"/><rect x="405.5" y="133.5" width="4.6" height="11.8" rx="1.3" fill="#3abfd2"/><rect x="405.5" y="136.7" width="4.6" height="3.2" fill="#233f63"/>
<rect x="419.9" y="130.4" width="16.4" height="16.2" rx="2.3" fill="#fcfcfc" stroke="#8e8e94" stroke-width="1.1"/><circle cx="428.1" cy="138.5" r="6.2" fill="#382f52"/><path d="M430.1 134.7 v7.6 M424.9 134.7 v2.8 q1.2 1.6 2.4 0 v-2.8 M426.1 137.9 v4.4" stroke="#a98aa6" stroke-width="0.9" fill="none"/>
<rect x="474.4" y="147.4" width="16.4" height="16.2" rx="2.3" fill="#fcfcfc" stroke="#8e8e94" stroke-width="1.1"/><circle cx="482.6" cy="155.5" r="6.2" fill="#382f52"/><path d="M484.6 151.7 v7.6 M479.4 151.7 v2.8 q1.2 1.6 2.4 0 v-2.8 M480.6 154.9 v4.4" stroke="#a98aa6" stroke-width="0.9" fill="none"/>
<rect x="494.7" y="147.4" width="16.4" height="16.2" rx="2.3" fill="#fcfcfc" stroke="#8e8e94" stroke-width="1.1"/><polygon points="498.6,150.9 507.2,150.9 506.1,161.1 499.7,161.1" fill="#27b9cc"/><polygon points="499.3,157.5 506.5,157.5 506.1,161.3 499.7,161.3" fill="#1d3557"/><rect x="498.0" y="149.9" width="9.8" height="1.5" rx="0.5" fill="#1d6f86"/>
<rect x="514.9" y="147.4" width="16.4" height="16.2" rx="2.3" fill="#fcfcfc" stroke="#8e8e94" stroke-width="1.1"/><circle cx="523.1" cy="155.5" r="6.4" fill="#d42a5f"/><rect x="521.5" y="151.7" width="3.2" height="7.6" fill="#fff"/><rect x="519.3" y="153.9" width="7.6" height="3.2" fill="#fff"/>
<rect x="393.4" y="275.7" width="16.4" height="16.2" rx="2.3" fill="#fcfcfc" stroke="#8e8e94" stroke-width="1.1"/><path d="M396.0 285.2 q5.5 1.2 9.6 -5.6 l1.7 0.9 q-0.800 7.8 -7.4 9.2 q-3.600 0.7 -5.300 -2.300 z" fill="#e9c243"/><path d="M396.6 287.0 q5.5 1.2 9.4 -5.300" stroke="#c09430" stroke-width="0.800" fill="none"/>
<rect x="413.1" y="275.7" width="16.4" height="16.2" rx="2.3" fill="#fcfcfc" stroke="#8e8e94" stroke-width="1.1"/><circle cx="421.3" cy="283.8" r="6.2" fill="#382f52"/><path d="M423.3 280.0 v7.6 M418.1 280.0 v2.8 q1.2 1.6 2.4 0 v-2.8 M419.3 283.2 v4.4" stroke="#a98aa6" stroke-width="0.9" fill="none"/>
<rect x="393.4" y="294.9" width="16.4" height="16.2" rx="2.3" fill="#fcfcfc" stroke="#8e8e94" stroke-width="1.1"/><polygon points="397.3,298.4 405.9,298.4 404.8,308.6 398.4,308.6" fill="#27b9cc"/><polygon points="398.0,305.0 405.2,305.0 404.8,308.8 398.4,308.8" fill="#1d3557"/><rect x="396.7" y="297.4" width="9.8" height="1.5" rx="0.5" fill="#1d6f86"/>
<rect x="413.1" y="294.9" width="16.4" height="16.2" rx="2.3" fill="#fcfcfc" stroke="#8e8e94" stroke-width="1.1"/><circle cx="421.3" cy="303.0" r="6.4" fill="#d42a5f"/><rect x="419.7" y="299.2" width="3.2" height="7.6" fill="#fff"/><rect x="417.5" y="301.4" width="7.6" height="3.2" fill="#fff"/>
<rect x="432.4" y="294.9" width="16.4" height="16.2" rx="2.3" fill="#fcfcfc" stroke="#8e8e94" stroke-width="1.1"/><rect x="439.4" y="295.8" width="2.4" height="2.6" fill="#2a7f96"/><rect x="438.3" y="298.0" width="4.6" height="11.8" rx="1.3" fill="#3abfd2"/><rect x="438.3" y="301.2" width="4.6" height="3.2" fill="#233f63"/>
<rect x="489.7" y="232.4" width="16.4" height="16.2" rx="2.3" fill="#fcfcfc" stroke="#8e8e94" stroke-width="1.1"/><polygon points="493.6,235.9 502.2,235.9 501.1,246.1 494.7,246.1" fill="#27b9cc"/><polygon points="494.3,242.5 501.5,242.5 501.1,246.3 494.7,246.3" fill="#1d3557"/><rect x="493.0" y="234.9" width="9.8" height="1.5" rx="0.5" fill="#1d6f86"/>
<rect x="509.4" y="232.4" width="16.4" height="16.2" rx="2.3" fill="#fcfcfc" stroke="#8e8e94" stroke-width="1.1"/><circle cx="517.6" cy="240.5" r="6.4" fill="#d42a5f"/><rect x="516.0" y="236.7" width="3.2" height="7.6" fill="#fff"/><rect x="513.8" y="238.9" width="7.6" height="3.2" fill="#fff"/>
<rect x="528.8" y="232.4" width="16.4" height="16.2" rx="2.3" fill="#fcfcfc" stroke="#8e8e94" stroke-width="1.1"/><circle cx="537.0" cy="240.5" r="6.2" fill="#382f52"/><path d="M539.0 236.7 v7.6 M533.8 236.7 v2.8 q1.2 1.6 2.4 0 v-2.8 M535.0 239.9 v4.4" stroke="#a98aa6" stroke-width="0.9" fill="none"/>
<rect x="568.4" y="229.4" width="16.4" height="16.2" rx="2.3" fill="#fcfcfc" stroke="#8e8e94" stroke-width="1.1"/><path d="M571.0 238.9 q5.5 1.2 9.6 -5.6 l1.7 0.9 q-0.800 7.8 -7.4 9.2 q-3.600 0.7 -5.300 -2.300 z" fill="#e9c243"/><path d="M571.6 240.7 q5.5 1.2 9.4 -5.300" stroke="#c09430" stroke-width="0.800" fill="none"/>
<rect x="588.4" y="229.4" width="16.4" height="16.2" rx="2.3" fill="#fcfcfc" stroke="#8e8e94" stroke-width="1.1"/><polygon points="592.3,232.9 600.9,232.9 599.8,243.1 593.4,243.1" fill="#27b9cc"/><polygon points="593.0,239.5 600.2,239.5 599.8,243.3 593.4,243.3" fill="#1d3557"/><rect x="591.7" y="231.9" width="9.8" height="1.5" rx="0.5" fill="#1d6f86"/>
<rect x="608.4" y="229.4" width="16.4" height="16.2" rx="2.3" fill="#fcfcfc" stroke="#8e8e94" stroke-width="1.1"/><circle cx="616.6" cy="237.5" r="6.4" fill="#d42a5f"/><rect x="615.0" y="233.7" width="3.2" height="7.6" fill="#fff"/><rect x="612.8" y="235.9" width="7.6" height="3.2" fill="#fff"/>
<rect x="628.4" y="229.4" width="16.4" height="16.2" rx="2.3" fill="#fcfcfc" stroke="#8e8e94" stroke-width="1.1"/><rect x="635.4" y="230.3" width="2.4" height="2.6" fill="#2a7f96"/><rect x="634.3" y="232.5" width="4.6" height="11.8" rx="1.3" fill="#3abfd2"/><rect x="634.3" y="235.7" width="4.6" height="3.2" fill="#233f63"/>
<rect x="648.4" y="229.4" width="16.4" height="16.2" rx="2.3" fill="#fcfcfc" stroke="#8e8e94" stroke-width="1.1"/><circle cx="656.6" cy="237.5" r="6.2" fill="#382f52"/><path d="M658.6 233.7 v7.6 M653.4 233.7 v2.8 q1.2 1.6 2.4 0 v-2.8 M654.6 236.9 v4.4" stroke="#a98aa6" stroke-width="0.9" fill="none"/>
<rect x="711.6" y="196.9" width="16.4" height="16.2" rx="2.3" fill="#fcfcfc" stroke="#8e8e94" stroke-width="1.1"/><circle cx="719.8" cy="205.6" r="5.7" fill="#c2255a"/><polygon points="718.0,198.4 721.6,198.4 719.8,201.2" fill="#8c1d47"/><circle cx="719.8" cy="205.6" r="2.1" fill="#e85585"/>
<circle cx="408.3" cy="111.8" r="13.2" fill="#6cc3d0"/><circle cx="408.3" cy="111.8" r="11.0" fill="#e5245d"/><text x="408.3" y="117.2" font-size="15" font-weight="bold" fill="#fff" text-anchor="middle" font-family="'Liberation Sans',sans-serif">5</text>
<circle cx="523.8" cy="130.2" r="13.2" fill="#6cc3d0"/><circle cx="523.8" cy="130.2" r="11.0" fill="#e5245d"/><text x="523.8" y="134.3" font-size="11.3" font-weight="bold" fill="#fff" text-anchor="middle" font-family="'Liberation Sans',sans-serif" textLength="14.5" lengthAdjust="spacingAndGlyphs">7.5</text>
<circle cx="636.8" cy="212.8" r="13.2" fill="#6cc3d0"/><circle cx="636.8" cy="212.8" r="11.0" fill="#e5245d"/><text x="636.8" y="217.0" font-size="11.6" font-weight="bold" fill="#fff" text-anchor="middle" font-family="'Liberation Sans',sans-serif" textLength="12.4" lengthAdjust="spacingAndGlyphs">10</text>
<circle cx="718.8" cy="178.8" r="13.2" fill="#6cc3d0"/><circle cx="718.8" cy="178.8" r="11.0" fill="#e5245d"/><text x="718.8" y="182.1" font-size="9.2" font-weight="bold" fill="#fff" text-anchor="middle" font-family="'Liberation Sans',sans-serif" textLength="14" lengthAdjust="spacingAndGlyphs">11.5</text>
<circle cx="517.0" cy="214.8" r="13.2" fill="#6cc3d0"/><circle cx="517.0" cy="214.8" r="11.0" fill="#e5245d"/><text x="517.0" y="218.1" font-size="9.2" font-weight="bold" fill="#fff" text-anchor="middle" font-family="'Liberation Sans',sans-serif" textLength="14" lengthAdjust="spacingAndGlyphs">12.5</text>
<circle cx="402.5" cy="259.5" r="13.2" fill="#6cc3d0"/><circle cx="402.5" cy="259.5" r="11.0" fill="#e5245d"/><text x="402.5" y="263.7" font-size="11.6" font-weight="bold" fill="#fff" text-anchor="middle" font-family="'Liberation Sans',sans-serif" textLength="12.2" lengthAdjust="spacingAndGlyphs">15</text>
<circle cx="259.5" cy="227.4" r="13.2" fill="#6cc3d0"/><circle cx="259.5" cy="227.4" r="11.0" fill="#e5245d"/><text x="259.5" y="230.7" font-size="9.2" font-weight="bold" fill="#fff" text-anchor="middle" font-family="'Liberation Sans',sans-serif" textLength="14" lengthAdjust="spacingAndGlyphs">17.5</text>
<circle cx="152.8" cy="222.5" r="13.2" fill="#6cc3d0"/><circle cx="152.8" cy="222.5" r="11.0" fill="#e5245d"/><text x="152.8" y="226.7" font-size="11.6" font-weight="bold" fill="#fff" text-anchor="middle" font-family="'Liberation Sans',sans-serif" textLength="12.4" lengthAdjust="spacingAndGlyphs">20</text>
<path d="M168.5 19.5 H380 a2.5 2.5 0 0 1 2.5 2.5 V31.6 H449.5 a3 3 0 0 1 3 3 V57.5 q0 2.6 -2.4 4.4 L436 70.6 q-3.6 2 -3.6 -1.8 V57.8 H168.5 a2.5 2.5 0 0 1 -2.500 -2.5 V22 a2.5 2.5 0 0 1 2.5 -2.5 z" fill="#e5245d"/>
<text x="172.5" y="30" font-size="8.2" font-weight="bold" fill="#2c2a4b" font-family="'Liberation Sans',sans-serif" textLength="201" lengthAdjust="spacingAndGlyphs" stroke="#2c2a4b" stroke-width="0.35">Chengdu Longquanshan Urban Forest Park</text>
<text x="172" y="51.2" font-size="22" font-weight="bold" fill="#2c2a4b" font-family="'Liberation Sans',sans-serif" textLength="271" lengthAdjust="spacingAndGlyphs" stroke="#2c2a4b" stroke-width="0.9">Wufengxi Half Marathon</text>
<path d="M675 20 H758.500 a2.5 2.5 0 0 1 2.5 2.5 V88 a2.5 2.5 0 0 1 -2.500 2.5 H678 V97 q0 3.2 -3.2 2.2 q-3 -1.2 -17.3 -8.500 V55.4 H611.5 a2.5 2.5 0 0 1 -2.500 -2.5 V33.2 a2.5 2.5 0 0 1 2.5 -2.5 H672.500 V22.5 a2.5 2.5 0 0 1 2.5 -2.5 z" fill="#2fbfd6"/>
<text x="680" y="30.7" font-size="6.6" fill="#1f3a52" font-family="'Liberation Sans','Noto Sans CJK SC',sans-serif" textLength="74" lengthAdjust="spacingAndGlyphs">成都龙泉山城市森林公园</text>
<text x="615.6" y="49.6" font-size="17" font-weight="bold" fill="#1a2f47" font-family="'Liberation Sans','Noto Sans CJK SC',sans-serif" textLength="139.6" lengthAdjust="spacingAndGlyphs" stroke="#1a2f47" stroke-width="0.5">五凤溪半程马拉松</text>
<text x="668.500" y="79.8" font-size="28" font-weight="bold" fill="#1a2f47" font-family="'Liberation Sans','Noto Sans CJK SC',sans-serif" textLength="87" lengthAdjust="spacingAndGlyphs" stroke="#1a2f47" stroke-width="0.8">赛道图</text>
<polygon points="26.9,23.1 54.1,20.1 56.4,25.4 74.5,24.3 79.0,28.4 84.3,35.2 89.6,64.0 80.6,68.5 74.5,66.2 65.4,59.6 50.3,68.5 43.5,62.5 20.0,60.2" fill="#f4c3d2" stroke="#f4c3d2" stroke-width="1.6" stroke-linejoin="round"/>
<polygon points="26.9,23.1 54.1,20.1 56.4,25.4 74.5,24.3 79.0,28.4 84.3,35.2 89.6,64.0 80.6,68.5 74.5,66.2 65.4,59.6 50.3,68.5 43.5,62.5 20.0,60.2" fill="#cf3464"/>
<polygon points="30.4,25.5 54.8,22.8 56.9,27.5 73.2,26.5 77.2,30.2 82.0,36.3 86.8,62.3 78.7,66.3 73.2,64.2 65.0,58.3 51.4,66.3 45.3,60.9 24.1,58.8" fill="#ab3060"/>
<g transform="translate(28,56) rotate(-5)"><text x="0" y="0" font-size="39" fill="#fff" stroke="#fff" stroke-width="0.15" font-family="'Liberation Sans','Noto Sans CJK SC',sans-serif" textLength="26" lengthAdjust="spacingAndGlyphs">5</text></g>
<g transform="translate(52.5,61.5) rotate(-3)"><text x="0" y="0" font-size="32" font-weight="500" fill="#fff" font-family="'Liberation Sans','Noto Sans CJK SC',sans-serif" textLength="31" lengthAdjust="spacingAndGlyphs">凤</text></g>
<text x="57" y="20.6" font-size="5.2" font-weight="bold" fill="#c7376a" font-family="'Liberation Sans','Noto Sans CJK SC',sans-serif" transform="rotate(-4 57 20)" textLength="16.8" lengthAdjust="spacingAndGlyphs">03.09</text>
<text x="20" y="64.5" font-size="2.8" fill="#e06a93" font-family="'Liberation Sans','Noto Sans CJK SC',sans-serif" textLength="22" lengthAdjust="spacingAndGlyphs">WUFENGXI MARATHON</text>
<text x="20" y="68" font-size="2.8" fill="#e06a93" font-family="'Liberation Sans','Noto Sans CJK SC',sans-serif" textLength="22" lengthAdjust="spacingAndGlyphs">成都龙泉山半程马拉松</text>
<polygon points="115.1,17.8 124.2,16.3 126.5,18.6 128.0,15.5 137.0,17.8 137.0,24.6 134.0,29.9 135.5,32.2 131.7,40.5 128.0,43.5 130.2,50.3 138.5,52.5 138.5,60.1 100.8,60.8 100.0,53.3 110.6,51.0 112.9,32.9 108.3,32.2 109.1,23.8 115.1,22.3" fill="#f4c3d2" stroke="#f4c3d2" stroke-width="1.4" stroke-linejoin="round"/>
<polygon points="115.1,17.8 124.2,16.3 126.5,18.6 128.0,15.5 137.0,17.8 137.0,24.6 134.0,29.9 135.5,32.2 131.7,40.5 128.0,43.5 130.2,50.3 138.5,52.5 138.5,60.1 100.8,60.8 100.0,53.3 110.6,51.0 112.9,32.9 108.3,32.2 109.1,23.8 115.1,22.3" fill="#b72d5d"/>
<polygon points="117,22 121.6,21.4 126.6,52 114.8,52" fill="#f3f6f7"/>
<rect x="105.3" y="54" width="28.7" height="3" fill="#f3f6f7"/>
<text x="111.3" y="33" font-size="13" font-weight="bold" fill="#fff" font-family="'Liberation Sans','Noto Sans CJK SC',sans-serif" font-style="italic">1</text>
<text x="124.5" y="31" font-size="10" font-weight="bold" fill="#fff" font-family="'Liberation Sans','Noto Sans CJK SC',sans-serif" textLength="8.5" lengthAdjust="spacingAndGlyphs" font-style="italic">th</text>
<text x="100.800" y="71" font-size="7.4" font-weight="bold" fill="#4fc7d8" font-family="'Liberation Sans','Noto Sans CJK SC',sans-serif" textLength="38.500" lengthAdjust="spacingAndGlyphs">Since 2015</text>
<rect x="0" y="349.3" width="798" height="1.600" fill="#5c6670"/>
<rect x="36" y="366.6" width="124.500" height="32.3" fill="#e5245d"/>
<rect x="44.500" y="370" width="108" height="17.800" fill="#7fe9f1"/>
<line x1="44.500" x2="152.500" y1="372.8" y2="372.8" stroke="#5fd0e0" stroke-width="0.5"/><line x1="44.500" x2="152.500" y1="375.6" y2="375.6" stroke="#5fd0e0" stroke-width="0.5"/><line x1="44.500" x2="152.500" y1="378.4" y2="378.4" stroke="#5fd0e0" stroke-width="0.5"/><line x1="44.500" x2="152.500" y1="381.2" y2="381.2" stroke="#5fd0e0" stroke-width="0.5"/><line x1="44.500" x2="152.500" y1="384.0" y2="384.0" stroke="#5fd0e0" stroke-width="0.5"/><polygon points="44.5,388.0 44.5,386.5 50.0,387.0 55.0,385.5 60.0,382.0 66.0,377.5 71.0,373.0 73.5,370.3 76.0,372.5 82.0,375.5 90.0,379.5 97.0,383.5 103.0,386.3 108.0,387.0 112.0,385.5 116.0,383.0 120.0,381.0 123.0,380.5 126.0,379.2 129.0,381.0 132.0,383.0 136.0,385.8 142.0,386.5 148.0,386.8 152.5,386.5 152.5,388.0" fill="#e5245d"/>
<rect x="53.7" y="390" width="7.5" height="4.600" rx="0.8" fill="#63d6e4"/><rect x="66.2" y="390" width="7.5" height="4.600" rx="0.8" fill="#63d6e4"/><rect x="78.7" y="390" width="7.5" height="4.600" rx="0.8" fill="#63d6e4"/><rect x="91.2" y="390" width="7.5" height="4.600" rx="0.8" fill="#63d6e4"/><rect x="104.5" y="390" width="7.5" height="4.600" rx="0.8" fill="#63d6e4"/><rect x="117.5" y="390" width="7.5" height="4.600" rx="0.8" fill="#63d6e4"/><rect x="130.0" y="390" width="7.5" height="4.600" rx="0.8" fill="#63d6e4"/><rect x="148.7" y="390" width="7.5" height="4.600" rx="0.8" fill="#63d6e4"/>
<rect x="170" y="366.6" width="125" height="32.3" fill="#29c0d4"/>
<rect x="180.500" y="370.500" width="108.500" height="17.500" fill="#e5245d"/>
<polygon points="180.5,388.2 180.5,386.5 186.0,385.8 191.0,386.3 196.0,385.3 201.0,386.3 207.0,385.0 213.0,382.5 219.0,379.0 225.0,374.5 229.0,371.5 231.0,370.8 234.0,372.5 239.0,376.5 245.0,380.5 251.0,382.5 258.0,381.8 264.0,381.3 270.0,382.0 276.0,383.8 282.0,385.8 289.0,386.5 289.0,388.2" fill="#8fe9f2"/>
<rect x="198.7" y="390" width="6.800" height="4.500" rx="0.8" fill="#e8467c"/><rect x="219.5" y="390" width="6.800" height="4.500" rx="0.8" fill="#e8467c"/><rect x="240.5" y="390" width="6.800" height="4.500" rx="0.8" fill="#e8467c"/><rect x="261.7" y="390" width="6.800" height="4.500" rx="0.8" fill="#e8467c"/><rect x="285.0" y="390" width="6.800" height="4.500" rx="0.8" fill="#e8467c"/>
<text x="36.5" y="405.2" font-size="4.8" fill="#7c7c80" text-anchor="start" font-family="'Liberation Sans','Noto Sans CJK SC',sans-serif">半山/迷你跑</text>
<text x="170.5" y="405.2" font-size="4.8" fill="#7c7c80" text-anchor="start" font-family="'Liberation Sans','Noto Sans CJK SC',sans-serif">半程马</text>
<rect x="332.0" y="373.0" width="9.2" height="16.0" fill="#fbfbfb"/><rect x="336.60" y="373.00" width="4.60" height="4.00" fill="#1a1a1a"/><rect x="332.00" y="377.00" width="4.60" height="4.00" fill="#1a1a1a"/><rect x="336.60" y="381.00" width="4.60" height="4.00" fill="#1a1a1a"/><rect x="332.00" y="385.00" width="4.60" height="4.00" fill="#1a1a1a"/>
<text x="336.8" y="397.9" font-size="4.6" fill="#7c7c80" text-anchor="middle" font-family="'Liberation Sans','Noto Sans CJK SC',sans-serif">起/终点</text>
<line x1="366" x2="382.500" y1="381.300" y2="381.300" stroke="#7b80a8" stroke-width="3.800" stroke-linecap="round"/>
<text x="374.3" y="397.9" font-size="4.6" fill="#7c7c80" text-anchor="middle" font-family="'Liberation Sans','Noto Sans CJK SC',sans-serif">全程赛道</text>
<line x1="402.500" x2="419.200" y1="381.300" y2="381.300" stroke="#2ec3d8" stroke-width="3.800" stroke-linecap="round"/>
<text x="411.0" y="397.9" font-size="4.6" fill="#7c7c80" text-anchor="middle" font-family="'Liberation Sans','Noto Sans CJK SC',sans-serif">半程赛道</text>
<line x1="439.500" x2="456.200" y1="381.300" y2="381.300" stroke="#d92a5f" stroke-width="3.800" stroke-linecap="round"/>
<text x="448.0" y="397.9" font-size="4.6" fill="#7c7c80" text-anchor="middle" font-family="'Liberation Sans','Noto Sans CJK SC',sans-serif">迷你赛道</text>
<circle cx="485.0" cy="381.3" r="8.8" fill="#6cc3d0"/><circle cx="485.0" cy="381.3" r="7.4" fill="#e5245d"/><text x="485.0" y="384.9" font-size="10" font-weight="bold" fill="#fff" text-anchor="middle" font-family="'Liberation Sans',sans-serif">5</text>
<rect x="513.3" y="373.1" width="17.4" height="17.4" rx="2.3" fill="#fcfcfc" stroke="#8e8e94" stroke-width="1.1"/><path d="M516.4 383.2 q5.5 1.2 9.6 -5.6 l1.7 0.9 q-0.800 7.8 -7.4 9.2 q-3.600 0.7 -5.300 -2.300 z" fill="#e9c243"/><path d="M517.0 385.0 q5.5 1.2 9.4 -5.300" stroke="#c09430" stroke-width="0.800" fill="none"/>
<text x="522.0" y="397.9" font-size="4.6" fill="#7c7c80" text-anchor="middle" font-family="'Liberation Sans','Noto Sans CJK SC',sans-serif">补给站</text>
<rect x="550.3" y="373.1" width="17.4" height="17.4" rx="2.3" fill="#fcfcfc" stroke="#8e8e94" stroke-width="1.1"/><circle cx="559.0" cy="381.8" r="6.2" fill="#382f52"/><path d="M561.0 378.0 v7.6 M555.8 378.0 v2.8 q1.2 1.6 2.4 0 v-2.8 M557.0 381.2 v4.4" stroke="#a98aa6" stroke-width="0.9" fill="none"/>
<text x="559.0" y="397.9" font-size="4.6" fill="#7c7c80" text-anchor="middle" font-family="'Liberation Sans','Noto Sans CJK SC',sans-serif">餐饮</text>
<rect x="587.3" y="373.1" width="17.4" height="17.4" rx="2.3" fill="#fcfcfc" stroke="#8e8e94" stroke-width="1.1"/><circle cx="596.0" cy="382.4" r="5.7" fill="#c2255a"/><polygon points="594.2,375.2 597.8,375.2 596.0,378.0" fill="#8c1d47"/><circle cx="596.0" cy="382.4" r="2.1" fill="#e85585"/>
<text x="596.0" y="397.9" font-size="4.6" fill="#7c7c80" text-anchor="middle" font-family="'Liberation Sans','Noto Sans CJK SC',sans-serif">补给点</text>
<rect x="624.5" y="373.1" width="17.4" height="17.4" rx="2.3" fill="#fcfcfc" stroke="#8e8e94" stroke-width="1.1"/><polygon points="628.9,377.2 637.5,377.2 636.4,387.4 630.0,387.4" fill="#27b9cc"/><polygon points="629.6,383.8 636.8,383.8 636.4,387.6 630.0,387.6" fill="#1d3557"/><rect x="628.3" y="376.2" width="9.8" height="1.5" rx="0.5" fill="#1d6f86"/>
<text x="633.2" y="397.9" font-size="4.6" fill="#7c7c80" text-anchor="middle" font-family="'Liberation Sans','Noto Sans CJK SC',sans-serif">功能饮料站</text>
<rect x="661.3" y="373.1" width="17.4" height="17.4" rx="2.3" fill="#fcfcfc" stroke="#8e8e94" stroke-width="1.1"/><circle cx="670.0" cy="381.8" r="6.4" fill="#d42a5f"/><rect x="668.4" y="378.0" width="3.2" height="7.6" fill="#fff"/><rect x="666.2" y="380.2" width="7.6" height="3.2" fill="#fff"/>
<text x="670.0" y="397.9" font-size="4.6" fill="#7c7c80" text-anchor="middle" font-family="'Liberation Sans','Noto Sans CJK SC',sans-serif">医疗站</text>
<rect x="698.3" y="373.1" width="17.4" height="17.4" rx="2.3" fill="#fcfcfc" stroke="#8e8e94" stroke-width="1.1"/><rect x="705.8" y="374.6" width="2.4" height="2.6" fill="#2a7f96"/><rect x="704.7" y="376.8" width="4.6" height="11.8" rx="1.3" fill="#3abfd2"/><rect x="704.7" y="380.0" width="4.6" height="3.2" fill="#233f63"/>
<text x="707.0" y="397.9" font-size="4.6" fill="#7c7c80" text-anchor="middle" font-family="'Liberation Sans','Noto Sans CJK SC',sans-serif">饮用水站</text>
</g>
<rect x="0" y="0" width="800" height="1" fill="#c4c4c4"/>
<rect x="0" y="0" width="1" height="450" fill="#c8c8c8"/>
<rect x="1" y="1" width="1.500" height="449" fill="#fbfbfb"/>
</svg>
</body>
</html>
